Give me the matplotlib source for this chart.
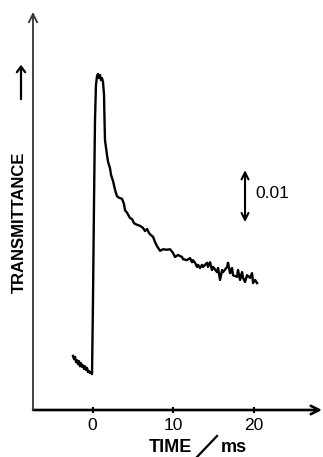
import matplotlib
matplotlib.use("Agg")
import matplotlib.pyplot as plt
import numpy as np
from matplotlib.lines import Line2D

plt.rcParams['font.family'] = ['Liberation Sans', 'DejaVu Sans']

# time (ms)
time_ms = [
    -2.42, -2.30, -2.17, -2.05, -1.93, -1.80, -1.68, -1.55, -1.43, -1.30,
    -1.18, -1.06, -0.93, -0.81, -0.68, -0.56, -0.43, -0.31, -0.19, -0.06,
    0.06, 0.19, 0.31, 0.43, 0.56,
    0.68, 0.81, 0.93, 1.06, 1.18, 1.30, 1.43, 1.49, 1.55, 1.68, 1.80, 1.93,
    2.17, 2.30, 2.55, 2.80, 3.04, 3.29, 3.66, 3.91, 4.04, 4.29, 4.66, 4.91,
    5.16, 5.53, 5.90, 6.27, 6.52, 6.77, 7.02, 7.27, 7.52, 7.76, 8.01, 8.39,
    8.76, 9.25, 9.63, 10.00, 10.25, 10.62, 11.12, 11.24, 11.74, 12.11, 12.36,
    12.48, 12.73, 12.98, 13.11, 13.35, 13.60, 13.73, 14.22, 14.35, 14.60,
    14.84, 14.97, 15.47, 15.59, 15.84, 16.09, 16.21, 16.71, 16.83, 17.08,
    17.33, 17.45, 17.95, 18.07, 18.32, 18.57, 18.70, 18.94, 19.19, 19.57,
    19.81, 19.94, 20.19, 20.43,
]
# transmittance change (units of 1e-3)
dT_milli = [
    3.3, 2.7, 3.1, 2.1, 2.5, 1.7, 2.3, 1.3, 1.9, 1.2,
    1.5, 0.8, 1.3, 0.6, 1.0, 0.2, 0.4, 0.0, 0.2, -0.2,
    14.0, 33.3, 48.7, 55.4, 57.1,
    57.5, 56.7, 57.3, 56.3, 56.7, 56.0, 53.5, 48.7, 44.8, 43.3, 41.9, 40.6,
    39.4, 38.1, 36.9, 35.2, 34.0, 33.7, 33.5, 32.5, 31.3, 30.8, 29.8, 29.6,
    28.8, 28.5, 28.3, 27.9, 27.3, 27.7, 26.9, 26.5, 26.2, 25.2, 24.4, 23.5,
    23.8, 23.7, 23.8, 23.1, 22.3, 22.7, 22.3, 21.9, 21.7, 22.1, 21.3,
    21.7, 21.2, 20.4, 20.8, 20.2, 20.8, 20.4, 21.2, 20.4, 21.3,
    19.8, 20.4, 19.4, 20.2, 17.9, 19.8, 19.4, 20.4, 21.2, 19.2,
    20.2, 18.8, 18.5, 19.8, 17.9, 19.4, 18.3, 17.5, 18.8, 18.3,
    19.2, 17.3, 17.9, 17.3,
]
xticks = [0, 10, 20]
scale_bar = 0.01
scale_label = "0.01"

W, H = 323, 457
fig = plt.figure(figsize=(W / 100, H / 100), dpi=100)
ax = fig.add_axes([33 / W, (H - 410) / H, (322 - 33) / W, (410 - 12) / H])

t = np.array(time_ms)
y = np.array(dT_milli) * 1e-3
ax.plot(t, y, color='black', lw=1.7, solid_joinstyle='round')

ax.set_xlim(-7.39, 28.5)
ax.set_ylim(-0.0071, 0.0694)

for s in ax.spines.values():
    s.set_visible(False)

# axes arrows
ax.annotate('', xy=(1.0, 0), xytext=(0, 0), xycoords='axes fraction',
            arrowprops=dict(arrowstyle='->,head_length=0.6,head_width=0.3', lw=1.9, color='black',
                            shrinkA=0, shrinkB=0))
ax.annotate('', xy=(0, 1.0), xytext=(0, 0), xycoords='axes fraction',
            arrowprops=dict(arrowstyle='->,head_length=0.6,head_width=0.3', lw=1.3, color='#333333',
                            shrinkA=0, shrinkB=0))

ax.set_yticks([])
ax.set_xticks(xticks)
ax.set_xticklabels([str(v) for v in xticks], fontsize=12.5)
ax.tick_params(axis='x', direction='inout', length=5, width=1.5, pad=3)

# scale bar
xs = 18.94
ax.annotate('', xy=(xs, 0.039), xytext=(xs, 0.039 - scale_bar),
            arrowprops=dict(arrowstyle='<->,head_length=0.5,head_width=0.25', lw=1.5, color='black',
                            shrinkA=0, shrinkB=0))
ax.text(20.2, 0.0345, scale_label, fontsize=12.5, ha='left', va='center')

# y label + arrow
fig.text(19 / W, 1 - 222 / H, "TRANSMITTANCE", rotation=90, ha='center', va='center',
         fontsize=12, fontweight='bold')
fig.patches.append(matplotlib.patches.FancyArrowPatch(
    (21 / W, 1 - 102 / H), (21 / W, 1 - 62 / H), transform=fig.transFigure,
    arrowstyle='->,head_length=4,head_width=3', lw=1.6, color='black'))

# x label: TIME / ms
fig.text(170 / W, 1 - 447 / H, "TIME", ha='center', va='center', fontsize=13, fontweight='bold')
fig.text(234 / W, 1 - 447 / H, "ms", ha='center', va='center', fontsize=13, fontweight='bold')
fig.lines.append(Line2D([197 / W, 217 / W], [1 - 457 / H, 1 - 436 / H],
                       transform=fig.transFigure, color='black', lw=1.6))

fig.savefig("out.png", dpi=100, facecolor='white')
